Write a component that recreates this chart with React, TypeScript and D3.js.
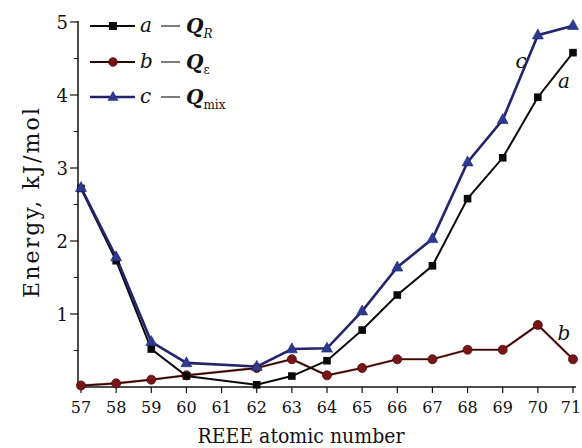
import React from "react";
import * as d3 from "d3";

const atomicNumbers = [57, 58, 59, 60, 62, 63, 64, 65, 66, 67, 68, 69, 70, 71];
const seriesA = [2.72, 1.73, 0.52, 0.15, 0.03, 0.15, 0.36, 0.78, 1.26, 1.66, 2.58, 3.14, 3.97, 4.58];
const seriesB = [0.02, 0.05, 0.1, 0.16, 0.26, 0.38, 0.16, 0.26, 0.38, 0.38, 0.51, 0.51, 0.85, 0.38];
const seriesC = [2.73, 1.78, 0.62, 0.33, 0.28, 0.52, 0.53, 1.04, 1.64, 2.03, 3.08, 3.66, 4.82, 4.95];
const xTicks = [57, 58, 59, 60, 61, 62, 63, 64, 65, 66, 67, 68, 69, 70, 71];
const yTicks = [1, 2, 3, 4, 5];
const yMinorTicks = [0.5, 1.5, 2.5, 3.5, 4.5];

const FONT = "DejaVu Serif, serif";

export default function App() {
  const W = 582, H = 448;
  const x = d3.scaleLinear().domain([57, 71]).range([81, 573]);
  const y = d3.scaleLinear().domain([0, 5]).range([387, 22]);
  const line = d3.line<number>().x((_, i) => x(atomicNumbers[i])).y((v) => y(v));

  const colA = "#0a0a0a";
  const colBLine = "#2a0606";
  const colBMark = "#7a1515";
  const colC = "#24246e";
  const colCMark = "#2c3a92";

  const tri = (cx: number, cy: number, s: number) =>
    `M${cx},${cy - s * 0.62} L${cx + s * 0.55},${cy + s * 0.38} L${cx - s * 0.55},${cy + s * 0.38} Z`;

  const legendRows = [
    { ly: 26, letter: "a", sub: "R", subItalic: true, kind: "a" },
    { ly: 62, letter: "b", sub: "ε", subItalic: false, kind: "b" },
    { ly: 97, letter: "c", sub: "mix", subItalic: false, kind: "c" },
  ];

  return (
    <svg width={W} height={H} style={{ position: "absolute", left: 0, top: 0, background: "#fff" }}>
      {/* axes */}
      <line x1={78} y1={387} x2={576} y2={387} stroke="#111" strokeWidth={1.5} />
      <line x1={78} y1={387.7} x2={78} y2={21} stroke="#111" strokeWidth={1.5} />
      {xTicks.map((t, i) => (
        <g key={"xt" + t}>
          <line x1={x(t)} x2={x(t)} y1={387} y2={393} stroke="#111" strokeWidth={1.2} />
          <text x={i === xTicks.length - 1 ? x(t) - 2 : x(t)} y={413} textAnchor="middle" fontFamily={FONT} fontSize={16} fill="#111">{t}</text>
        </g>
      ))}
      {yTicks.map((t) => (
        <g key={"yt" + t}>
          <line x1={70} x2={78} y1={y(t)} y2={y(t)} stroke="#111" strokeWidth={1.2} />
          <text x={68} y={y(t) + 6.5} textAnchor="end" fontFamily={FONT} fontSize={18} fill="#111">{t}</text>
        </g>
      ))}
      {yMinorTicks.map((t) => (
        <line key={"ym" + t} x1={74} x2={78} y1={y(t)} y2={y(t)} stroke="#111" strokeWidth={1} />
      ))}
      <text x={301} y={443} textAnchor="middle" fontFamily={FONT} fontSize={20} fill="#111"
        textLength={207} lengthAdjust="spacingAndGlyphs">REEE atomic number</text>
      <text transform={`translate(39,203) rotate(-90)`} textAnchor="middle" fontFamily={FONT} fontSize={22} fill="#111"
        textLength={190} lengthAdjust="spacing">Energy, kJ/mol</text>

      {/* series b */}
      <path d={line(seriesB) || ""} fill="none" stroke="#b02020" strokeWidth={2.6} opacity={0.5} />
      <path d={line(seriesB) || ""} fill="none" stroke={colBLine} strokeWidth={1.7} />
      {/* series a */}
      <path d={line(seriesA) || ""} fill="none" stroke={colA} strokeWidth={2} />
      {/* series c */}
      <path d={line(seriesC) || ""} fill="none" stroke={colC} strokeWidth={2.6} />

      {seriesB.map((v, i) => (
        <circle key={"b" + i} cx={x(atomicNumbers[i])} cy={y(v)} r={4.5} fill={colBMark} stroke="#4a0a0a" strokeWidth={0.8} />
      ))}
      {seriesA.map((v, i) => (
        <rect key={"a" + i} x={x(atomicNumbers[i]) - 3.8} y={y(v) - 3.8} width={7.6} height={7.6} fill={colA} />
      ))}
      {seriesC.map((v, i) => (
        <path key={"c" + i} d={tri(x(atomicNumbers[i]), y(v), 10)} fill={colCMark} stroke={colC} strokeWidth={0.6} />
      ))}

      {/* curve labels */}
      <text x={521} y={68} textAnchor="middle" fontFamily={FONT} fontStyle="italic" fontSize={20} fill="#111">c</text>
      <text x={564} y={88} textAnchor="middle" fontFamily={FONT} fontStyle="italic" fontSize={20} fill="#111">a</text>
      <text x={564} y={340} textAnchor="middle" fontFamily={FONT} fontStyle="italic" fontSize={20} fill="#111">b</text>

      {/* legend */}
      {legendRows.map((r) => (
        <g key={"lg" + r.kind}>
          <line x1={90} x2={135} y1={r.ly} y2={r.ly}
            stroke={r.kind === "a" ? colA : r.kind === "b" ? colBLine : colC}
            strokeWidth={r.kind === "c" ? 2.6 : 2} />
          {r.kind === "a" && <rect x={109} y={r.ly - 4} width={8} height={8} fill={colA} />}
          {r.kind === "b" && <circle cx={113} cy={r.ly} r={4.3} fill={colBMark} stroke="#4a0a0a" strokeWidth={0.8} />}
          {r.kind === "c" && <path d={tri(113, r.ly, 10)} fill={colCMark} />}
          <text x={140} y={r.ly + 6} fontFamily={FONT} fontSize={20} fill="#111">
            <tspan fontStyle="italic">{r.letter}</tspan>
          </text>
          <line x1={161} x2={180} y1={r.ly} y2={r.ly} stroke="#111" strokeWidth={1.1} />
          <text x={186} y={r.ly + 7} fontFamily={FONT} fontSize={20} fill="#111">
            <tspan fontStyle="italic" fontWeight="bold">Q</tspan>
            <tspan fontSize={12} dy={5} fontStyle={r.subItalic ? "italic" : "normal"}>{r.sub}</tspan>
          </text>
        </g>
      ))}
    </svg>
  );
}
